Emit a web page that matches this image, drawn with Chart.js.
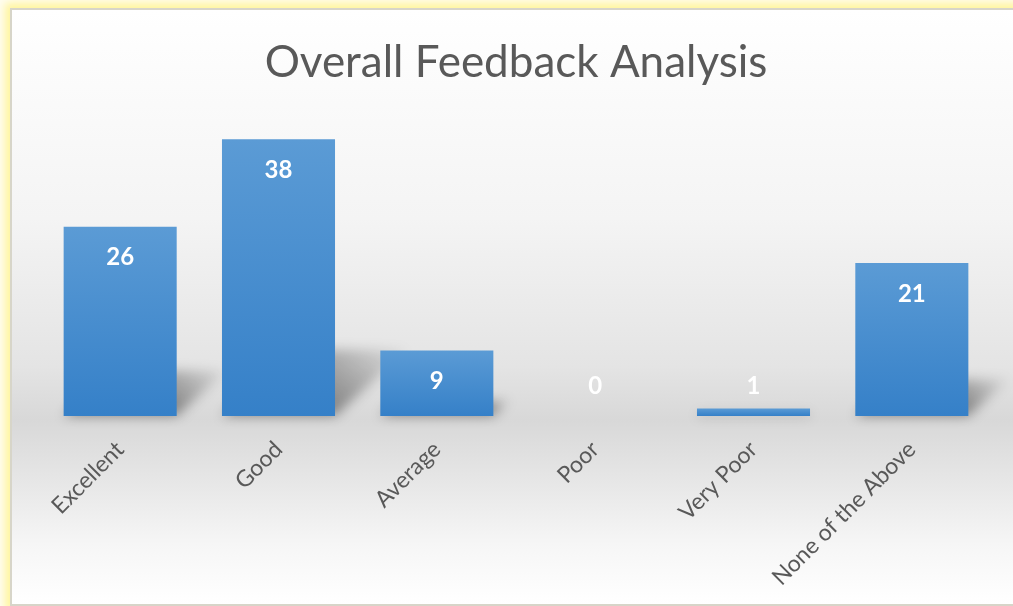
<!DOCTYPE html>
<html>
<head>
<meta charset="utf-8">
<script src="https://cdn.jsdelivr.net/npm/chart.js@4.4.1/dist/chart.umd.min.js"></script>
<style>
  html, body { margin: 0; padding: 0; width: 1013px; height: 606px; overflow: hidden; background: #fffdf0; }
  #frame {
    position: absolute; left: 10px; top: 8px; width: 1020px; height: 594px;
    border: 2px solid #d7d5c9;
    box-shadow: 0 0 8px 5px #fff59e;
    background: linear-gradient(to bottom, #ffffff 0%, #f4f4f4 35%, #e4e4e4 60%, #d8d8d8 69%, #e6e6e6 79%, #f6f6f6 90%, #ffffff 100%);
  }
  #chart { position: absolute; left: 0; top: 0; }
</style>
</head>
<body>
<div id="frame"></div>
<canvas id="chart" width="1013" height="606"></canvas>
<script>
const categories = ['Excellent', 'Good', 'Average', 'Poor', 'Very Poor', 'None of the Above']
const responses = [26, 38, 9, 0, 1, 21]
const yMin = 0
const yMax = 40

// perspective shadow behind each bar
const barShadow = {
    id: 'barShadow',
    beforeDatasetsDraw(chart) {
        const ctx = chart.ctx
        chart.getDatasetMeta(0).data.forEach(bar => {
            const h = bar.base - bar.y
            if (h < 2) return
            const sh = h * 0.24
            const left = bar.x - bar.width / 2
            const right = bar.x + bar.width / 2
            ctx.save()
            ctx.filter = 'blur(6px)'
            const g = ctx.createLinearGradient(right, bar.base, right + sh, bar.base - sh)
            g.addColorStop(0, 'rgba(0,0,0,0.4)')
            g.addColorStop(1, 'rgba(0,0,0,0.04)')
            ctx.fillStyle = g
            ctx.beginPath()
            ctx.moveTo(left, bar.base)
            ctx.lineTo(right, bar.base)
            ctx.lineTo(right + sh * 1.1, bar.base - sh)
            ctx.lineTo(left + sh * 1.1, bar.base - sh)
            ctx.closePath()
            ctx.fill()
            ctx.restore()
        })
    }
}

// white value labels near the top of each bar
const valueLabels = {
    id: 'valueLabels',
    afterDatasetsDraw(chart) {
        const ctx = chart.ctx
        ctx.save()
        ctx.fillStyle = '#ffffff'
        ctx.font = 'bold 24px Lato'
        ctx.textAlign = 'center'
        ctx.textBaseline = 'middle'
        chart.getDatasetMeta(0).data.forEach((bar, i) => {
            const y = Math.min(bar.y + 31, bar.base - 30)
            ctx.fillText(String(responses[i]), bar.x, y)
        })
        ctx.restore()
    }
}

new Chart('chart', {
    type: 'bar',
    data: {
        labels: categories,
        datasets: [{
            data: responses,
            barPercentage: 0.714,
            categoryPercentage: 1,
            backgroundColor(context) {
                const chart = context.chart
                if (!chart.chartArea || context.type !== 'data') return '#4a8fd0'
                const y = chart.scales.y
                const top = y.getPixelForValue(context.raw)
                const bottom = y.getPixelForValue(0)
                if (bottom - top < 1) return '#4a8fd0'
                const g = chart.ctx.createLinearGradient(0, top, 0, bottom)
                g.addColorStop(0, '#5b9bd5')
                g.addColorStop(1, '#3580c8')
                return g
            }
        }]
    },
    options: {
        responsive: false,
        animation: false,
        layout: { padding: { left: 41, right: 22, top: 0, bottom: 3 } },
        plugins: {
            legend: { display: false },
            tooltip: { enabled: false },
            title: {
                display: true,
                text: 'Overall Feedback Analysis',
                color: '#595959',
                font: { family: 'Lato', size: 44, weight: 'normal' },
                padding: { top: 36, bottom: 36 }
            }
        },
        scales: {
            y: { display: false, min: yMin, max: yMax },
            x: {
                grid: { display: false },
                border: { display: false },
                ticks: {
                    color: '#595959',
                    font: { family: 'Lato', size: 23 },
                    minRotation: 45,
                    maxRotation: 45,
                    padding: 12
                }
            }
        }
    },
    plugins: [barShadow, valueLabels]
})
</script>
</body>
</html>
